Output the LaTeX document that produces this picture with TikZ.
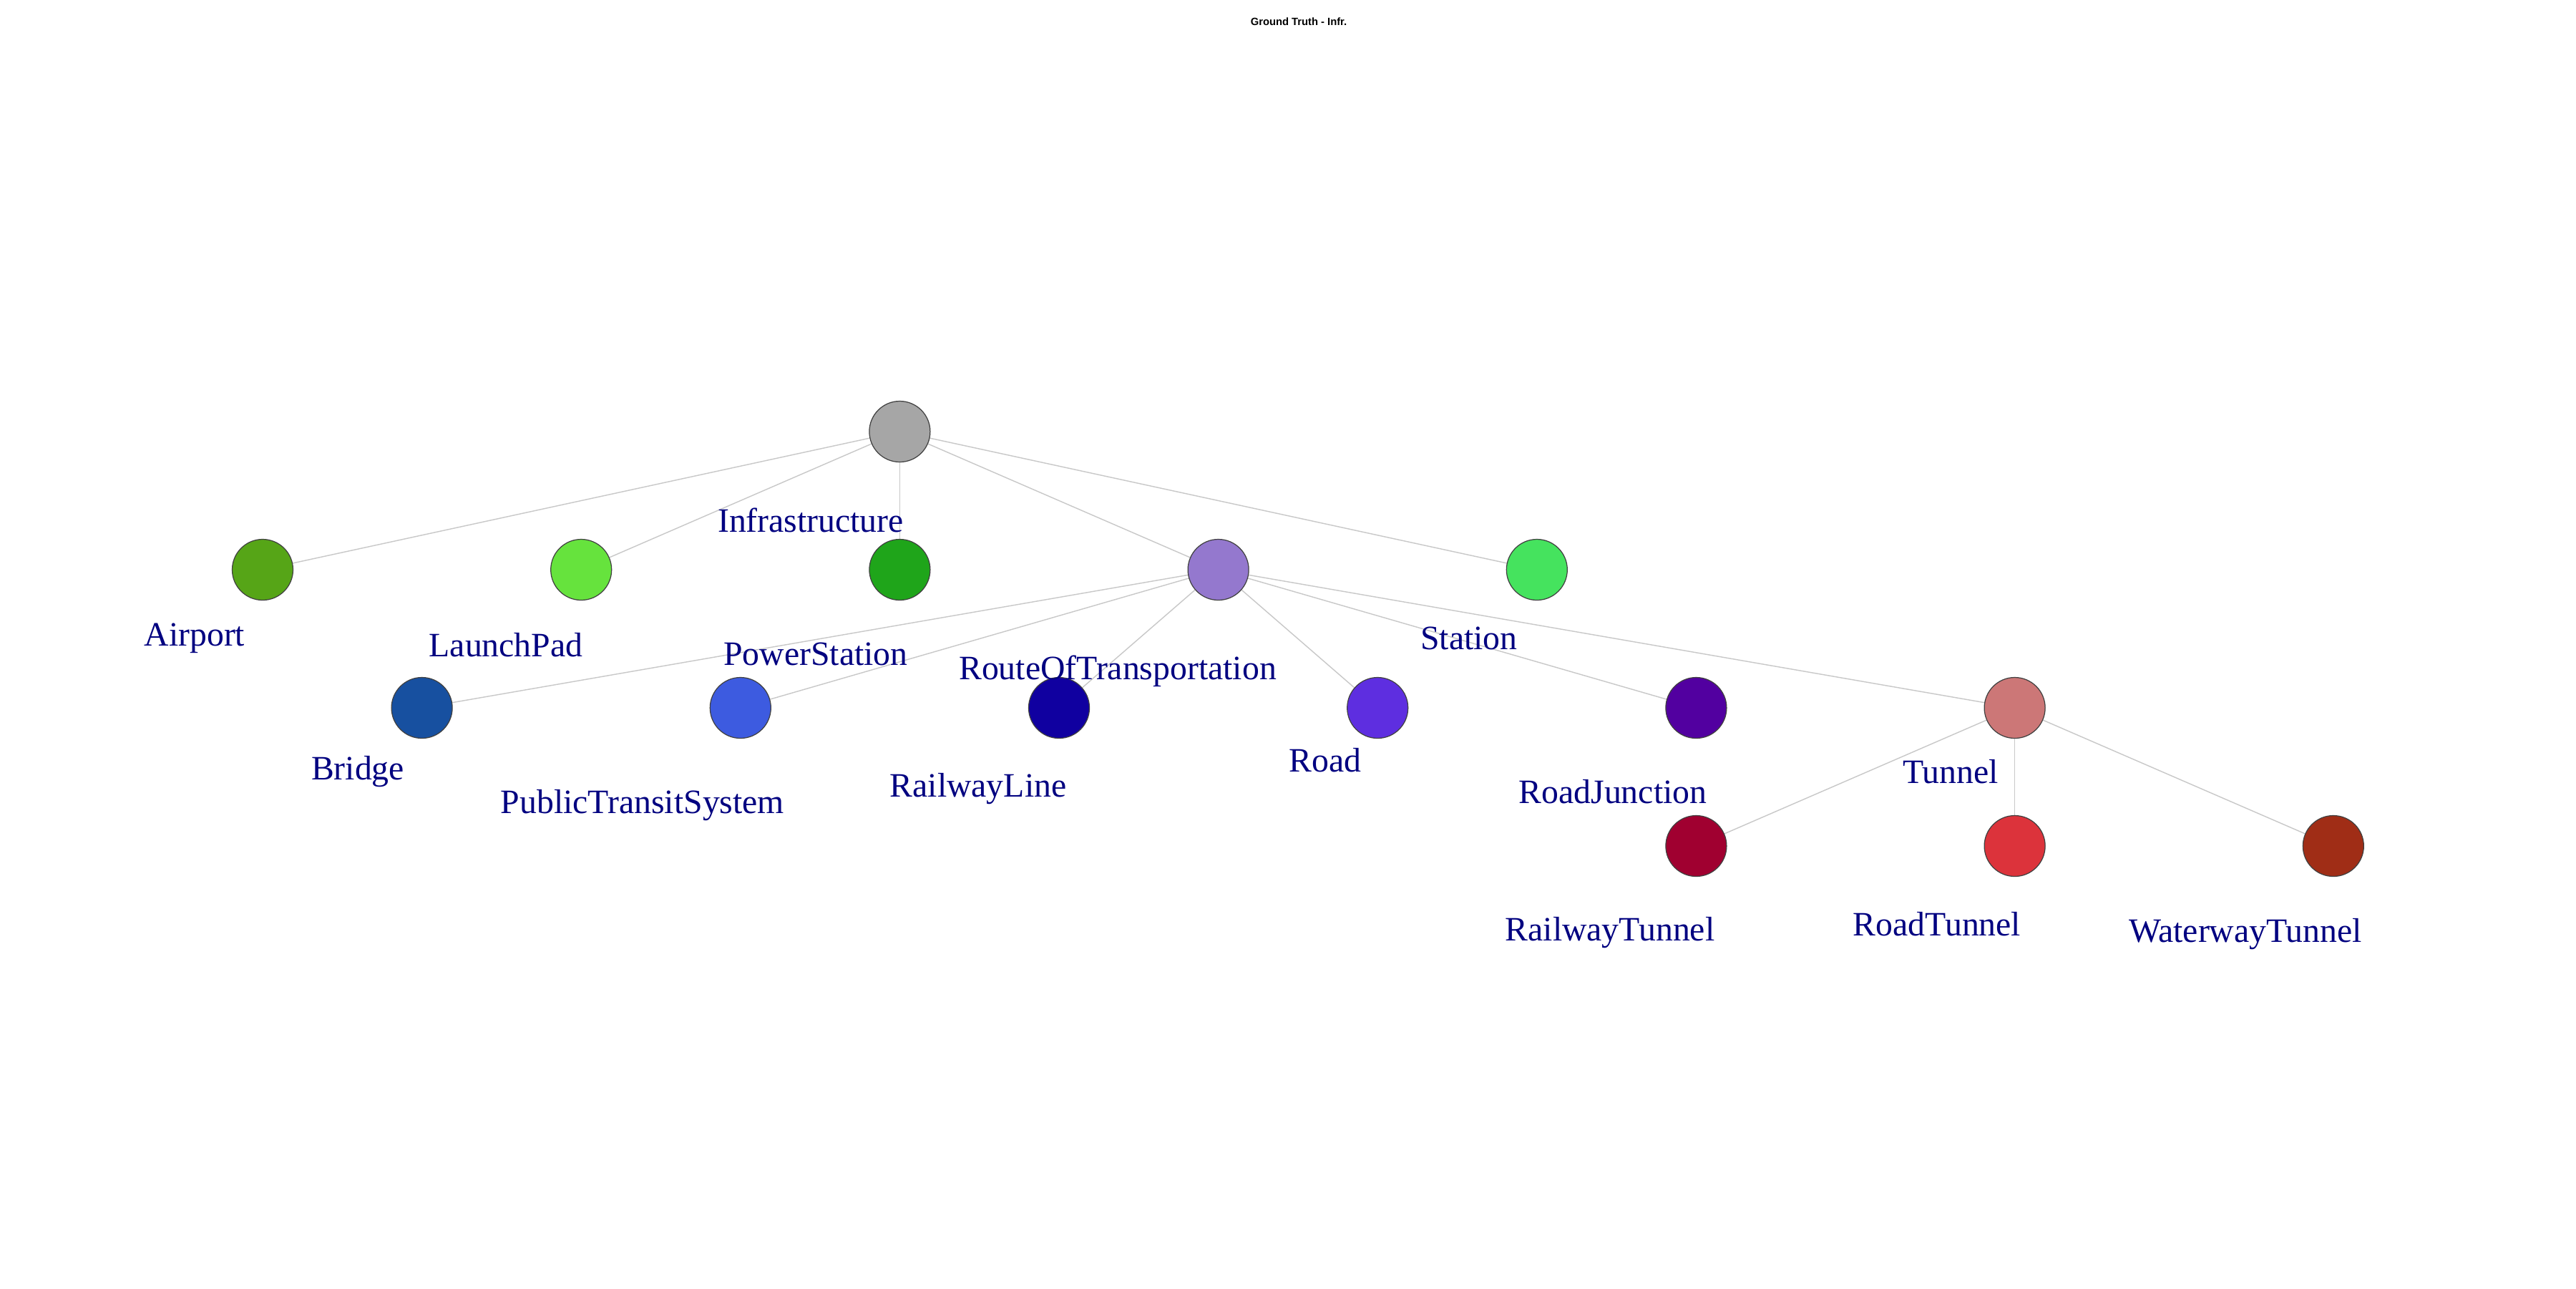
\documentclass[tikz,border=0pt]{standalone}
\usepackage{fontspec}
\setmainfont{Liberation Serif}
\newfontfamily\titlefont{Liberation Sans}
\pgfdeclarelayer{back}
\pgfdeclarelayer{bg}
\pgfsetlayers{back,bg,main}
\definecolor{cRoot}{HTML}{A6A6A6}
\definecolor{cAirport}{HTML}{56A517}
\definecolor{cLaunch}{HTML}{66E33D}
\definecolor{cPower}{HTML}{1FA51A}
\definecolor{cRoute}{HTML}{9478CE}
\definecolor{cStation}{HTML}{45E35E}
\definecolor{cBridge}{HTML}{1750A0}
\definecolor{cPTS}{HTML}{3D5BE0}
\definecolor{cRailLine}{HTML}{1000A0}
\definecolor{cRoad}{HTML}{5E2EE0}
\definecolor{cJunction}{HTML}{5200A0}
\definecolor{cTunnel}{HTML}{CC7777}
\definecolor{cRailTun}{HTML}{A00030}
\definecolor{cRoadTun}{HTML}{DC333B}
\definecolor{cWaterTun}{HTML}{A02D16}
\definecolor{labelnavy}{HTML}{000080}
\definecolor{edgegray}{HTML}{C8C8C8}
\tikzset{
  vtx/.style={circle, draw=black!75, line width=0.35pt, minimum size=0.85cm, inner sep=0pt},
  lbl/.style={anchor=base, text=labelnavy, inner sep=0pt, font=\fontsize{13.58pt}{16pt}\selectfont},
  edge/.style={draw=edgegray, line width=0.4pt}
}
\begin{document}
\begin{tikzpicture}
\useasboundingbox (0,0) rectangle (36,-18);
\begin{pgfonlayer}{back}
\fill[white] (0,0) rectangle (36,-18);
\end{pgfonlayer}
\node[anchor=base, inner sep=0pt, font=\titlefont\bfseries\fontsize{4.2pt}{5pt}\selectfont] (title) at (18.15,-0.35) {Ground Truth - Infr.};
% vertices
\node[vtx, fill=cRoot] (infra) at (12.574,-6.03) {};
\node[vtx, fill=cAirport] (airport) at (3.67,-7.96) {};
\node[vtx, fill=cLaunch] (launch) at (8.122,-7.96) {};
\node[vtx, fill=cPower] (power) at (12.574,-7.96) {};
\node[vtx, fill=cRoute] (route) at (17.026,-7.96) {};
\node[vtx, fill=cStation] (station) at (21.478,-7.96) {};
\node[vtx, fill=cBridge] (bridge) at (5.896,-9.89) {};
\node[vtx, fill=cPTS] (pts) at (10.348,-9.89) {};
\node[vtx, fill=cRailLine] (railline) at (14.80,-9.89) {};
\node[vtx, fill=cRoad] (road) at (19.252,-9.89) {};
\node[vtx, fill=cJunction] (junction) at (23.704,-9.89) {};
\node[vtx, fill=cTunnel] (tunnel) at (28.156,-9.89) {};
\node[vtx, fill=cRailTun] (railtun) at (23.704,-11.82) {};
\node[vtx, fill=cRoadTun] (roadtun) at (28.156,-11.82) {};
\node[vtx, fill=cWaterTun] (watertun) at (32.608,-11.82) {};
% edges
\begin{pgfonlayer}{bg}
\foreach \a/\b in {infra/airport, infra/launch, infra/power, infra/route, infra/station,
  route/bridge, route/pts, route/railline, route/road, route/junction, route/tunnel,
  tunnel/railtun, tunnel/roadtun, tunnel/watertun}
  \draw[edge] (\a) -- (\b);
\end{pgfonlayer}
% labels
\node[lbl] (l-infra) at (11.33,-7.43) {Infrastructure};
\node[lbl] (l-airport) at (2.72,-9.02) {Airport};
\node[lbl] (l-launch) at (7.07,-9.17) {LaunchPad};
\node[lbl] (l-power) at (11.40,-9.29) {PowerStation};
\node[lbl] (l-route) at (15.62,-9.49) {RouteOfTransportation};
\node[lbl] (l-station) at (20.53,-9.07) {Station};
\node[lbl] (l-bridge) at (5.00,-10.89) {Bridge};
\node[lbl] (l-pts) at (8.98,-11.36) {PublicTransitSystem};
\node[lbl] (l-railline) at (13.67,-11.13) {RailwayLine};
\node[lbl] (l-road) at (18.52,-10.78) {Road};
\node[lbl] (l-junction) at (22.54,-11.22) {RoadJunction};
\node[lbl] (l-tunnel) at (27.26,-10.94) {Tunnel};
\node[lbl] (l-railtun) at (22.50,-13.14) {RailwayTunnel};
\node[lbl] (l-roadtun) at (27.07,-13.07) {RoadTunnel};
\node[lbl] (l-watertun) at (31.38,-13.16) {WaterwayTunnel};
\end{tikzpicture}
\end{document}
